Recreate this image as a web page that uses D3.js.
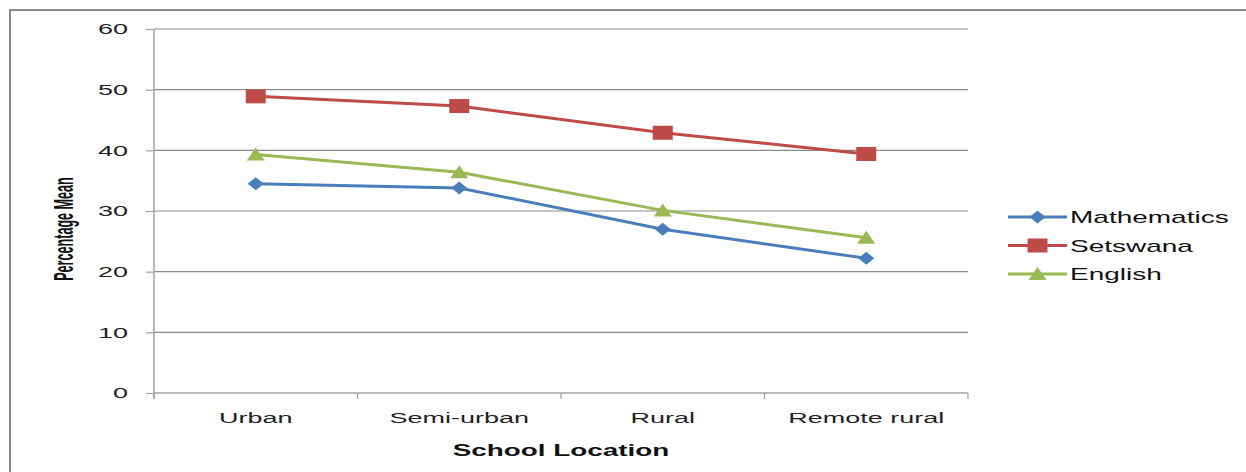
<!DOCTYPE html>
<html>
<head>
<meta charset="utf-8">
<script src="https://cdn.jsdelivr.net/npm/d3@7/dist/d3.min.js"></script>
<style>
  html, body { margin: 0; padding: 0; background: #fff; }
  svg { display: block; font-family: "Liberation Sans", Arial, sans-serif; }
</style>
</head>
<body>
<div id="chart"></div>
<script>
// === DATA ===
const locations = ["Urban", "Semi-urban", "Rural", "Remote rural"];
const mathematics = [34.5, 33.8, 27.0, 22.2];
const setswana = [48.9, 47.3, 42.9, 39.4];
const english = [39.3, 36.4, 30.1, 25.6];
const yTicks = [0, 10, 20, 30, 40, 50, 60];

const series = [
  { name: "Mathematics", values: mathematics, color: "#4a7ebb", marker: "diamond" },
  { name: "Setswana", values: setswana, color: "#be4b48", marker: "square" },
  { name: "English", values: english, color: "#98b954", marker: "triangle" }
];

// the original picture is stretched sideways, text included
const SX = 1.8;

// === LAYOUT ===
const W = 1246, H = 472;
const margin = { top: 29, left: 154, right: 278, bottom: 79 };
const plotW = W - margin.left - margin.right;
const plotH = H - margin.top - margin.bottom;

const svg = d3.select("#chart").append("svg")
  .attr("width", W).attr("height", H);

// outer frame
svg.append("rect")
  .attr("x", 10).attr("y", 10)
  .attr("width", W + 10).attr("height", H + 10)
  .attr("fill", "none").attr("stroke", "#8a8a8a").attr("stroke-width", 2);

const g = svg.append("g").attr("transform", `translate(${margin.left},${margin.top})`);

const x = d3.scaleBand().domain(locations).range([0, plotW]);
const y = d3.scaleLinear().domain([0, 60]).range([plotH, 0]);

// gridlines
g.append("g").selectAll("line")
  .data(yTicks.filter(d => d > 0))
  .join("line")
  .attr("x1", 0).attr("x2", plotW)
  .attr("y1", d => y(d)).attr("y2", d => y(d))
  .attr("stroke", "#8c8c8c").attr("stroke-width", 1.2);

// y axis
const yAxis = g.append("g")
  .call(d3.axisLeft(y).tickValues(yTicks).tickSize(8));
yAxis.select(".domain").attr("stroke", "#a0a0a0").attr("stroke-width", 1.5)
  .attr("d", `M0,${plotH + 6}V0`);
yAxis.selectAll(".tick line").attr("stroke", "#a0a0a0").attr("stroke-width", 1.2);
yAxis.selectAll(".tick text")
  .attr("x", -26 / SX)
  .attr("transform", `scale(${SX},1)`)
  .attr("font-size", 15).attr("fill", "#222")
  .attr("font-family", "'Liberation Sans', Arial, sans-serif");

// x axis
const xAxis = g.append("g").attr("transform", `translate(0,${plotH})`)
  .call(d3.axisBottom(x).tickSize(0).tickPadding(19));
xAxis.select(".domain").attr("stroke", "#a0a0a0").attr("stroke-width", 1.5)
  .attr("d", `M0,0H${plotW}`);
xAxis.selectAll(".tick text")
  .attr("transform", `scale(${SX},1)`)
  .attr("font-size", 15).attr("fill", "#222")
  .attr("font-family", "'Liberation Sans', Arial, sans-serif");
// boundary ticks between categories
g.append("g").selectAll("line")
  .data(d3.range(locations.length + 1))
  .join("line")
  .attr("x1", i => i * x.step()).attr("x2", i => i * x.step())
  .attr("y1", plotH).attr("y2", plotH + 6)
  .attr("stroke", "#a0a0a0").attr("stroke-width", 1.2);

// axis titles
svg.append("text")
  .attr("transform", `translate(${margin.left + plotW / 2},456) scale(1.74,1)`)
  .attr("text-anchor", "middle")
  .attr("font-size", 16).attr("font-weight", "bold").attr("fill", "#111")
  .text("School Location");

svg.append("text")
  .attr("transform", `translate(73,229) rotate(-90) scale(0.9,1.95)`)
  .attr("text-anchor", "middle")
  .attr("font-size", 14).attr("font-weight", "bold").attr("fill", "#111")
  .text("Percentage Mean");

// markers
function markerPath(type) {
  if (type === "diamond") return "M-8,0L0,-6.5L8,0L0,6.5Z";
  if (type === "square") return "M-10,-7H10V7H-10Z";
  return "M-9,6L0,-7L9,6Z";
}

const line = d3.line()
  .x((d, i) => x(locations[i]) + x.bandwidth() / 2)
  .y(d => y(d));

series.forEach(s => {
  g.append("path")
    .datum(s.values)
    .attr("d", line)
    .attr("fill", "none")
    .attr("stroke", s.color)
    .attr("stroke-width", 3);
});

series.forEach(s => {
  g.append("g").selectAll("path")
    .data(s.values)
    .join("path")
    .attr("transform", (d, i) => `translate(${x(locations[i]) + x.bandwidth() / 2},${y(d)})`)
    .attr("d", markerPath(s.marker))
    .attr("fill", s.color);
});

// legend
const legend = svg.append("g").attr("transform", "translate(1008,217)");
series.forEach((s, i) => {
  const row = legend.append("g").attr("transform", `translate(0,${i * 28.5})`);
  row.append("line")
    .attr("x1", 0).attr("x2", 59)
    .attr("stroke", s.color).attr("stroke-width", 3);
  row.append("path")
    .attr("transform", "translate(29.5,0)")
    .attr("d", markerPath(s.marker))
    .attr("fill", s.color);
  row.append("text")
    .attr("transform", "translate(62,6) scale(1.75,1)")
    .attr("font-size", 16).attr("fill", "#111")
    .text(s.name);
});
</script>
</body>
</html>
